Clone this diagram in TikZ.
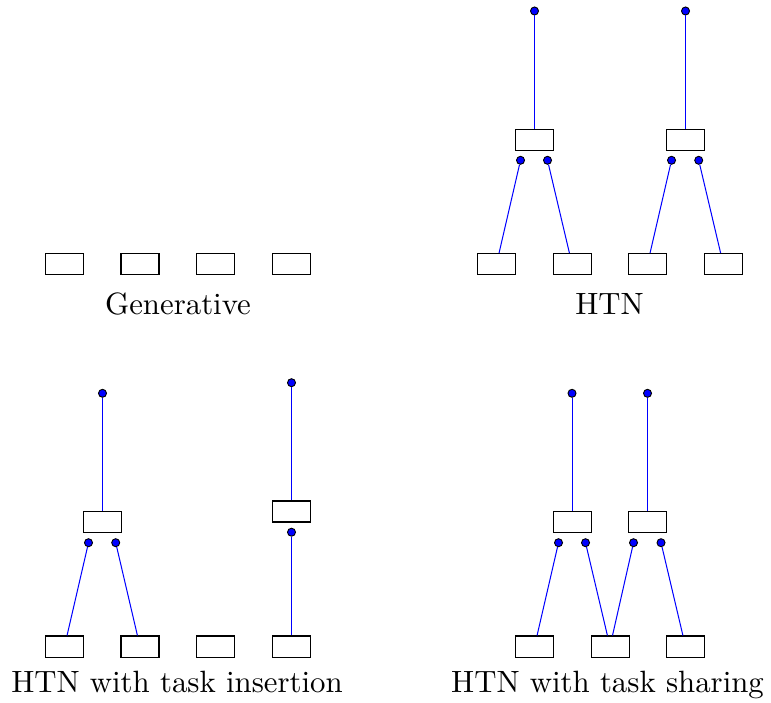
\documentclass[tikz,border=0pt]{standalone}
\tikzset{
  taskbox/.style={draw=black, fill=white, minimum width=12.34pt, minimum height=6.82pt, inner sep=0pt, line width=0.33pt},
  dotnode/.style={circle, draw=black, fill=blue, minimum size=2.6pt, inner sep=0pt, line width=0.3pt},
  link/.style={blue, line width=0.33pt},
  caption/.style={anchor=base, inner sep=0pt, font=\fontsize{10}{12}\selectfont}
}
\begin{document}
\begin{tikzpicture}[x=0.3247pt, y=-0.3247pt]
\path[use as bounding box] (0,0) rectangle (771,702);

% ---------- Generative ----------
\node[taskbox] (g1) at (64.5,264) {};
\node[taskbox] (g2) at (140,264) {};
\node[taskbox] (g3) at (215.5,264) {};
\node[taskbox] (g4) at (291.5,264) {};
\node[caption] (gcap) at (178,314.5) {Generative};

% ---------- HTN ----------
\node[taskbox] (h1) at (496.5,264) {};
\node[taskbox] (h2) at (572,264) {};
\node[taskbox] (h3) at (647.5,264) {};
\node[taskbox] (h4) at (723.2,264) {};
\node[taskbox] (hm1) at (534.5,139.8) {};
\node[taskbox] (hm2) at (685.5,139.8) {};
\node[dotnode] (ht1) at (534.5,11) {};
\node[dotnode] (ht2) at (685.5,11) {};
\node[dotnode] (hd11) at (520.5,160.3) {};
\node[dotnode] (hd12) at (547.5,160.3) {};
\node[dotnode] (hd21) at (671.5,160.3) {};
\node[dotnode] (hd22) at (698.7,160.3) {};
\draw[link] (ht1) -- (hm1);
\draw[link] (ht2) -- (hm2);
\draw[link] (hd11) -- (h1);
\draw[link] (hd12) -- (h2);
\draw[link] (hd21) -- (h3);
\draw[link] (hd22) -- (h4);
\node[caption] (hcap) at (609.5,314.5) {HTN};

% ---------- HTN with task insertion ----------
\node[taskbox] (i1) at (64.5,646.5) {};
\node[taskbox] (i2) at (140,646.5) {};
\node[taskbox] (i3) at (215.5,646.5) {};
\node[taskbox] (i4) at (291.5,646.5) {};
\node[taskbox] (im1) at (102.5,522.2) {};
\node[taskbox] (im2) at (291.5,511.5) {};
\node[dotnode] (it1) at (102.5,393.3) {};
\node[dotnode] (it2) at (291.5,382.7) {};
\node[dotnode] (id11) at (88.5,542.7) {};
\node[dotnode] (id12) at (115.7,542.7) {};
\node[dotnode] (id21) at (291.5,532.2) {};
\draw[link] (it1) -- (im1);
\draw[link] (it2) -- (im2);
\draw[link] (id11) -- (i1);
\draw[link] (id12) -- (i2);
\draw[link] (id21) -- (i4);
\node[caption] (icap) at (177,692.8) {HTN with task insertion};

% ---------- HTN with task sharing ----------
\node[taskbox] (s1) at (534.5,646.5) {};
\node[taskbox] (s2) at (610,646.5) {};
\node[taskbox] (s3) at (685.5,646.5) {};
\node[taskbox] (sm1) at (572,522.2) {};
\node[taskbox] (sm2) at (647.5,522.2) {};
\node[dotnode] (st1) at (572,393.3) {};
\node[dotnode] (st2) at (647.5,393.3) {};
\node[dotnode] (sd11) at (558.5,542.7) {};
\node[dotnode] (sd12) at (585.5,542.7) {};
\node[dotnode] (sd21) at (633.5,542.7) {};
\node[dotnode] (sd22) at (661,542.7) {};
\draw[link] (st1) -- (sm1);
\draw[link] (st2) -- (sm2);
\draw[link] (sd11) -- (s1);
\draw[link] (sd12) -- (s2);
\draw[link] (sd21) -- (s2);
\draw[link] (sd22) -- (s3);
\node[caption] (scap) at (607.5,692.8) {HTN with task sharing};
\end{tikzpicture}
\end{document}
